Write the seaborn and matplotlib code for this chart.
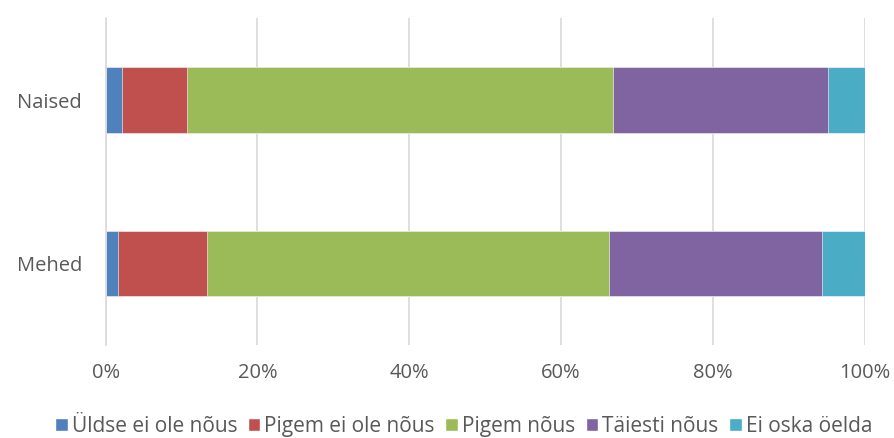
import numpy as np
import pandas as pd
import matplotlib
matplotlib.use("Agg")
import matplotlib.pyplot as plt
import seaborn as sns
from matplotlib.patches import Patch

groups = ["Naised", "Mehed"]
answers = ["Üldse ei ole nõus", "Pigem ei ole nõus", "Pigem nõus", "Täiesti nõus", "Ei oska öelda"]
naised = [2.2, 8.5, 56.2, 28.3, 4.8]
mehed = [1.6, 11.8, 52.9, 28.1, 5.6]
colors = ["#4F81BD", "#C0504D", "#9BBB59", "#8064A2", "#4BACC6"]
xticks = [0, 20, 40, 60, 80, 100]
xtick_labels = ["0%", "20%", "40%", "60%", "80%", "100%"]

sns.set_theme(style="white")
plt.rcParams["font.family"] = ["Open Sans", "DejaVu Sans"]

vals = np.array([naised, mehed])
cum = vals.cumsum(axis=1)

fig, ax = plt.subplots(figsize=(8.95, 4.38), dpi=100)
fig.subplots_adjust(left=0.118, right=0.966, top=0.958, bottom=0.212)

# draw stacked bars from the outermost layer inward
for i in range(len(answers) - 1, -1, -1):
    df = pd.DataFrame({"group": groups, "value": cum[:, i]})
    sns.barplot(data=df, x="value", y="group", orient="h", color=colors[i],
                width=0.4, edgecolor="white", linewidth=0.4, saturation=1, ax=ax)

ax.set_xlim(0, 100)
ax.set_ylim(1.5, -0.5)
ax.set_xticks(xticks)
ax.set_xticklabels(xtick_labels, fontsize=14.5, color="#595959")
ax.tick_params(axis="y", labelsize=14.5, labelcolor="#595959", length=0, pad=17)
ax.tick_params(axis="x", length=0, pad=13)
ax.set_xlabel("")
ax.set_ylabel("")
ax.xaxis.grid(True, color="#D9D9D9", linewidth=1.2)
ax.set_axisbelow(True)
for s in ["top", "right", "bottom"]:
    ax.spines[s].set_visible(False)
ax.spines["left"].set_color("#D9D9D9")
ax.spines["left"].set_linewidth(1.2)

handles = [Patch(facecolor=c, label=a) for c, a in zip(colors, answers)]
fig.legend(handles=handles, loc="lower center", bbox_to_anchor=(0.518, -0.04),
           ncol=5, frameon=False, fontsize=15, handlelength=0.6, handleheight=0.6,
           handletextpad=0.2, columnspacing=0.5, labelcolor="#595959")

fig.savefig("out.png", dpi=100)
